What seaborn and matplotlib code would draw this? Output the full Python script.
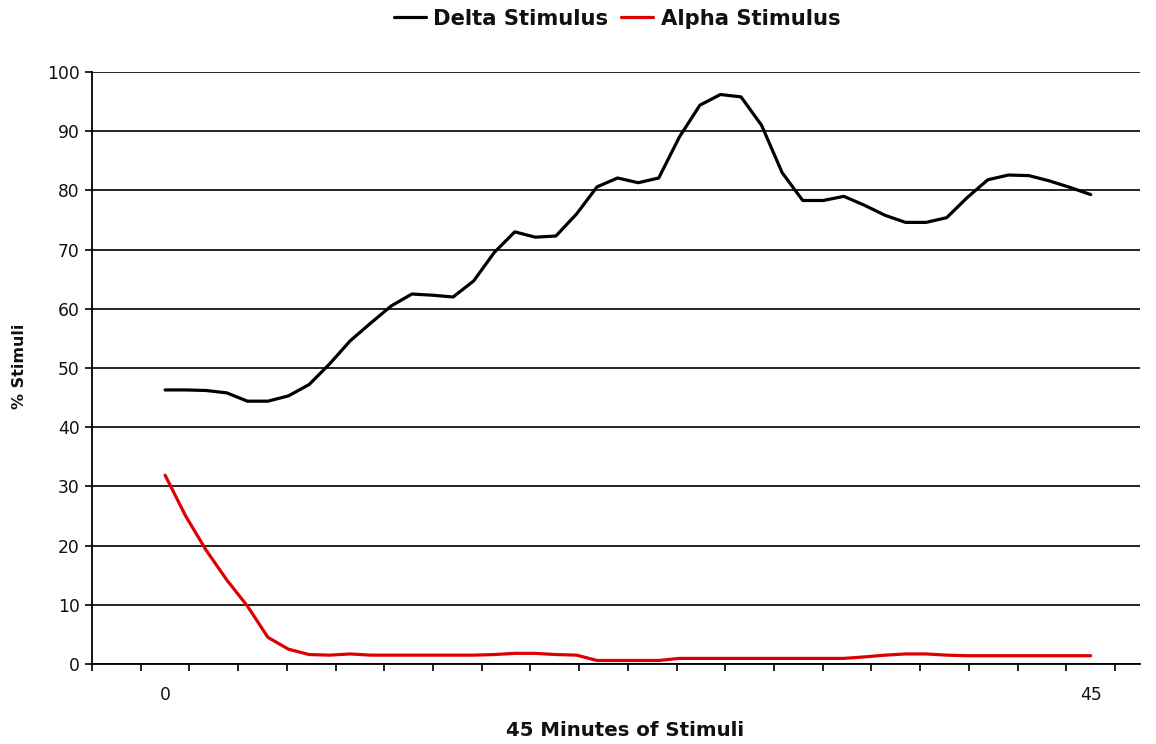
import numpy as np
import pandas as pd
import matplotlib
matplotlib.use("Agg")
import matplotlib.pyplot as plt
import seaborn as sns

# ---- data ----
minutes = list(range(46))
delta = [46.3, 46.3, 46.2, 45.8, 44.4, 44.4, 45.3, 47.2, 50.7, 54.6,
         57.6, 60.5, 62.5, 62.3, 62.0, 64.7, 69.5, 73.0, 72.1, 72.3,
         76.0, 80.6, 82.1, 81.3, 82.1, 89.0, 94.4, 96.2, 95.8, 91.0,
         83.0, 78.3, 78.3, 79.0, 77.5, 75.8, 74.6, 74.6, 75.4, 78.8,
         81.8, 82.6, 82.5, 81.6, 80.5, 79.3]
alpha = [31.9, 25.0, 19.2, 14.2, 9.8, 4.5, 2.5, 1.6, 1.5, 1.7,
         1.5, 1.5, 1.5, 1.5, 1.5, 1.5, 1.6, 1.8, 1.8, 1.6,
         1.5, 0.6, 0.6, 0.6, 0.6, 0.95, 0.95, 0.95, 0.95, 0.95,
         0.95, 0.95, 0.95, 0.95, 1.2, 1.5, 1.7, 1.7, 1.5, 1.4,
         1.4, 1.4, 1.4, 1.4, 1.4, 1.4]
series_names = ["Delta Stimulus", "Alpha Stimulus"]
series_colors = ["#000000", "#dd0000"]
y_ticks = [0, 10, 20, 30, 40, 50, 60, 70, 80, 90, 100]
x_tick_values = [0, 45]
x_tick_labels = ["0", "45"]

sns.set_theme(style="white")
plt.rcParams['font.family'] = ['DejaVu Sans']

df = pd.DataFrame({
    "Minute": minutes * 2,
    "Value": delta + alpha,
    "Series": [series_names[0]] * len(delta) + [series_names[1]] * len(alpha),
})

fig = plt.figure(figsize=(11.56, 7.44), dpi=100)
ax = fig.add_axes([0.0796, 0.1075, 0.9066, 0.7957])

sns.lineplot(data=df, x="Minute", y="Value", hue="Series",
             palette=dict(zip(series_names, series_colors)),
             linewidth=2.3, ax=ax)

# axes range
step = 45 / 19
ax.set_xlim(-1.5 * step, 47.4)
ax.set_ylim(0, 100)

# y axis
ax.set_yticks(y_ticks)
ax.tick_params(axis='y', which='major', length=5, width=1.2, color='black',
               direction='out', pad=4, labelsize=12.3, labelcolor='#111111', left=True)
ax.yaxis.grid(True, color='black', linewidth=1.2)
ax.xaxis.grid(False)
ax.set_axisbelow(True)

# x axis: labels at 0 and 45, tick marks at category boundaries
ax.set_xticks(x_tick_values, x_tick_labels)
ax.set_xticks([(k - 0.5) * step for k in range(-1, 21)], minor=True)
ax.tick_params(axis='x', which='major', length=0, pad=16, labelsize=12.3, labelcolor='#111111')
ax.tick_params(axis='x', which='minor', length=5, width=1.2, color='black',
               direction='out', bottom=True)

for s in ["top", "right"]:
    ax.spines[s].set_visible(False)
for s in ["left", "bottom"]:
    ax.spines[s].set_color('black')
    ax.spines[s].set_linewidth(1.3)

ax.set_xlabel("45 Minutes of Stimuli", fontsize=14.2, fontweight='bold', color='#111111')
ax.xaxis.set_label_coords(0.5086, -0.097)
ax.set_ylabel("% Stimuli", fontsize=11.5, fontweight='bold', color='#111111')
ax.yaxis.set_label_coords(-0.062, 0.503)

sns.move_legend(ax, "center", bbox_to_anchor=(0.501, 1.090), ncol=2, frameon=False,
                title=None, handlelength=1.5, handletextpad=0.37,
                columnspacing=0.6, labelcolor='#111111',
                prop={'weight': 'bold', 'size': 15.2})

fig.savefig("out.png", dpi=100)
